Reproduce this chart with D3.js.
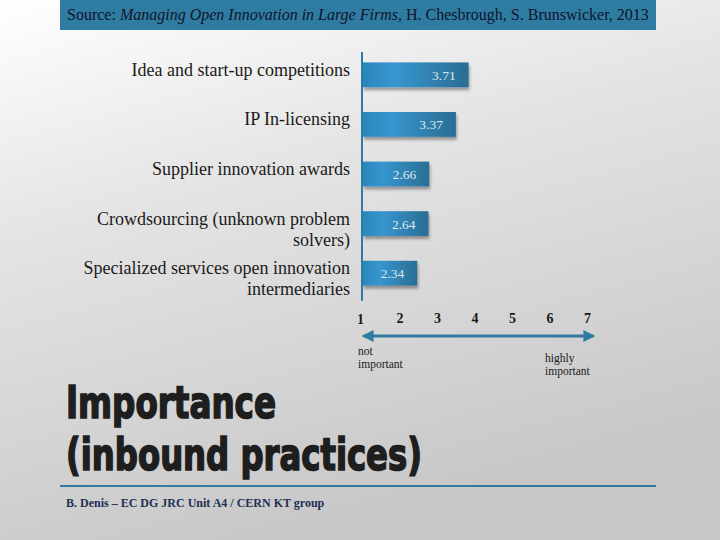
<!DOCTYPE html>
<html>
<head>
<meta charset="utf-8">
<script src="https://cdn.jsdelivr.net/npm/d3@7"></script>
<style>
  body { margin: 0; }
  svg { display: block; }
</style>
</head>
<body>
<div class="chart"></div>
<script>
// data
const practices = [
    ['Idea and start-up competitions'],
    ['IP In-licensing'],
    ['Supplier innovation awards'],
    ['Crowdsourcing (unknown problem', 'solvers)'],
    ['Specialized services open innovation', 'intermediaries']
]
const scores = [3.71, 3.37, 2.66, 2.64, 2.34]
const ticks = [1, 2, 3, 4, 5, 6, 7]

const width = 720
const height = 540
const blue = '#2f7ca3'

const svg = d3.select('.chart')
    .append('svg')
    .attr('width', width)
    .attr('height', height)

const defs = svg.append('defs')

// slide background: white top-left fading into grey
const bg = defs.append('linearGradient')
    .attr('id', 'bg')
    .attr('x1', 0).attr('y1', 0).attr('x2', 0.35).attr('y2', 1)
bg.append('stop').attr('offset', '0%').attr('stop-color', '#ffffff')
bg.append('stop').attr('offset', '40%').attr('stop-color', '#e4e4e4')
bg.append('stop').attr('offset', '100%').attr('stop-color', '#c8c8c8')

const barGrad = defs.append('linearGradient')
    .attr('id', 'bar')
    .attr('x1', 0).attr('y1', 0).attr('x2', 1).attr('y2', 0)
barGrad.append('stop').attr('offset', '0%').attr('stop-color', '#2b86bd')
barGrad.append('stop').attr('offset', '30%').attr('stop-color', '#3796cf')
barGrad.append('stop').attr('offset', '100%').attr('stop-color', '#2a6d93')

const shadow = defs.append('filter').attr('id', 'shadow')
    .attr('x', '-10%').attr('y', '-20%').attr('width', '130%').attr('height', '180%')
shadow.append('feDropShadow')
    .attr('dx', 1).attr('dy', 3).attr('stdDeviation', 1.6)
    .attr('flood-color', '#000').attr('flood-opacity', 0.35)

const arrow = defs.append('marker')
    .attr('id', 'arrow')
    .attr('viewBox', '0 0 10 10')
    .attr('refX', 8).attr('refY', 5)
    .attr('markerWidth', 4).attr('markerHeight', 4)
    .attr('orient', 'auto-start-reverse')
arrow.append('path').attr('d', 'M0,0 L10,5 L0,10 z').attr('fill', blue)

svg.append('rect')
    .attr('width', width).attr('height', height)
    .attr('fill', 'url(#bg)')

// source banner
svg.append('rect')
    .attr('x', 60).attr('y', 0)
    .attr('width', 596).attr('height', 30)
    .attr('fill', blue)

const src = svg.append('text')
    .attr('x', 67).attr('y', 20)
    .style('font-family', 'Liberation Serif, serif')
    .style('font-size', '16px')
    .attr('fill', '#0f1428')
src.append('tspan').text('Source: ')
src.append('tspan').style('font-style', 'italic').text('Managing Open Innovation in Large Firms')
src.append('tspan').text(', H. Chesbrough, S. Brunswicker, 2013')

// scales
const x = d3.scaleLinear().domain([1, 7]).range([362, 587])
const y = d3.scaleBand()
    .domain(d3.range(scores.length))
    .range([50, 298])
    .paddingInner(0.5)
    .paddingOuter(0.25)

const g = svg.append('g')

g.selectAll('rect.bar')
    .data(scores)
    .enter()
    .append('rect')
    .attr('class', 'bar')
    .attr('x', x(1) + 1)
    .attr('y', (d, i) => y(i))
    .attr('width', d => x(d) - x(1) + 4)
    .attr('height', y.bandwidth())
    .attr('fill', 'url(#bar)')
    .attr('filter', 'url(#shadow)')

g.selectAll('text.value')
    .data(scores)
    .enter()
    .append('text')
    .attr('class', 'value')
    .attr('x', d => x(d) - 8)
    .attr('y', (d, i) => y(i) + y.bandwidth() / 2 + 5)
    .attr('text-anchor', 'end')
    .style('font-family', 'Liberation Serif, serif')
    .style('font-size', '13.5px')
    .attr('fill', '#dfeaf2')
    .text(d => d.toFixed(2))

// category labels, first line level with the bar
const labels = g.selectAll('text.cat')
    .data(practices)
    .enter()
    .append('text')
    .attr('class', 'cat')
    .attr('text-anchor', 'end')
    .style('font-family', 'Liberation Serif, serif')
    .style('font-size', '18px')
    .attr('fill', '#1a1a1a')

labels.each(function (lines, i) {
    d3.select(this).selectAll('tspan')
        .data(lines)
        .enter()
        .append('tspan')
        .attr('x', 350)
        .attr('y', (l, j) => y(i) + y.bandwidth() / 2 + 1 + j * 21)
        .text(l => l)
})

// vertical axis line
g.append('line')
    .attr('x1', x(1)).attr('x2', x(1))
    .attr('y1', 52).attr('y2', 301)
    .attr('stroke', blue)
    .attr('stroke-width', 2)

// importance scale below the bars
const scale = svg.append('g')
    .attr('transform', 'translate(0,336)')
    .call(d3.axisBottom(x).tickValues(ticks).tickSize(0).tickFormat(d3.format('d')))

scale.select('.domain').remove()
scale.selectAll('text')
    .attr('y', -23)
    .style('font-family', 'Liberation Serif, serif')
    .style('font-size', '14px')
    .style('font-weight', 'bold')
    .attr('fill', '#1a1a1a')
scale.selectAll('.tick').filter(d => d === 1).select('text').attr('dx', -2).attr('y', -22)

svg.append('line')
    .attr('x1', x(1) + 2).attr('x2', x(7) + 6)
    .attr('y1', 336).attr('y2', 336)
    .attr('stroke', blue)
    .attr('stroke-width', 3)
    .attr('marker-start', 'url(#arrow)')
    .attr('marker-end', 'url(#arrow)')

const ends = [
    { lines: ['not', 'important'], at: 1, dx: -4, dy: 355 },
    { lines: ['highly', 'important'], at: 7, dx: -42, dy: 362 }
]
ends.forEach(e => {
    const t = svg.append('text')
        .style('font-family', 'Liberation Serif, serif')
        .style('font-size', '11.5px')
        .attr('fill', '#1a1a1a')
    e.lines.forEach((l, j) => {
        t.append('tspan')
            .attr('x', x(e.at) + e.dx)
            .attr('y', e.dy + j * 13)
            .text(l)
    })
})

// slide title
const titleLines = [
    { text: 'Importance', y: 418, len: 210 },
    { text: '(inbound practices)', y: 470, len: 356 }
]
svg.selectAll('text.title')
    .data(titleLines)
    .enter()
    .append('text')
    .attr('class', 'title')
    .attr('x', 66)
    .attr('y', d => d.y)
    .attr('textLength', d => d.len)
    .attr('lengthAdjust', 'spacingAndGlyphs')
    .style('font-family', 'DejaVu Sans Condensed, DejaVu Sans, sans-serif')
    .style('font-weight', 'bold')
    .style('font-size', '45px')
    .attr('fill', '#1e1e1e')
    .attr('stroke', '#1e1e1e')
    .attr('stroke-width', 1.6)
    .text(d => d.text)

svg.append('line')
    .attr('x1', 60).attr('x2', 656)
    .attr('y1', 486).attr('y2', 486)
    .attr('stroke', blue)
    .attr('stroke-width', 2)

svg.append('text')
    .attr('x', 66).attr('y', 507)
    .style('font-family', 'Liberation Serif, serif')
    .style('font-size', '12px')
    .style('font-weight', 'bold')
    .attr('fill', '#1f2f55')
    .text('B. Denis – EC DG JRC Unit A4 / CERN KT group')
</script>
</body>
</html>
